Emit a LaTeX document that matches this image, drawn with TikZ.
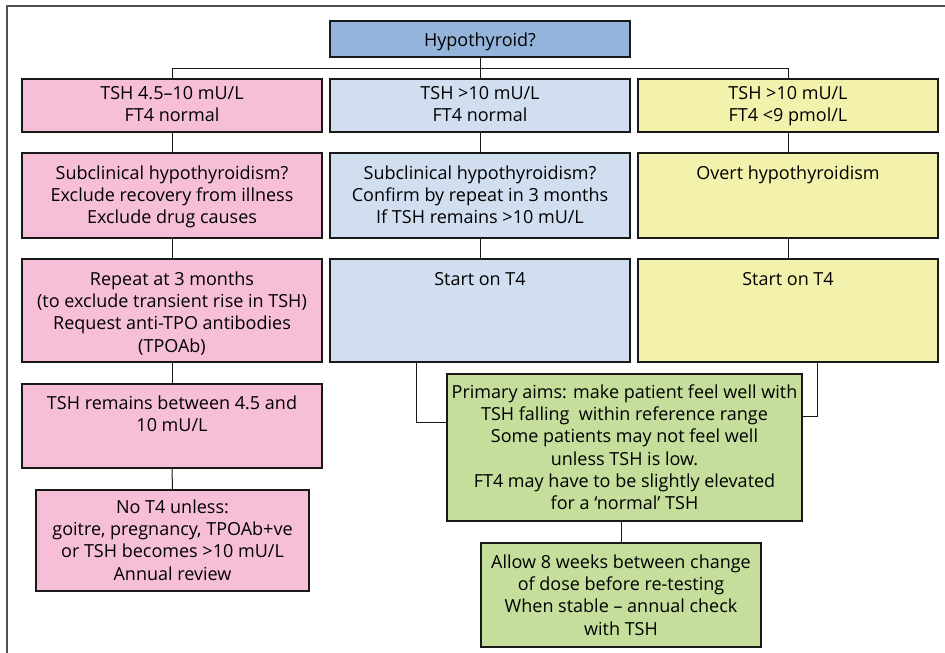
\documentclass[tikz,border=0pt]{standalone}
\usepackage{fontspec}
\setmainfont{Open Sans}
\definecolor{cpink}{HTML}{F6BFD7}
\definecolor{cblue}{HTML}{D1DEF0}
\definecolor{cyel}{HTML}{F2F2AD}
\definecolor{cgreen}{HTML}{C5DE9B}
\definecolor{ctop}{HTML}{95B4DC}
\definecolor{cframe}{HTML}{505050}
\tikzset{
  box/.style={draw=black!90, line width=1.2pt, rectangle, inner sep=0pt},
  txt/.style={anchor=north, align=center, inner sep=0pt, font=\fontsize{18}{22.3}\selectfont},
  conn/.style={draw=black!90, line width=1pt},
}
\begin{document}
\begin{tikzpicture}[x=1pt,y=-1pt]
\useasboundingbox (0,0) rectangle (945,653);
\draw[cframe, line width=1.2pt] (7,653) -- (7,6) -- (945,6);
% top
\node[box, fill=ctop, minimum width=300pt, minimum height=36pt] (top) at (480,39) {};
\node[txt] (ttop) at ([yshift=-10pt]top.north) {\strut Hypothyroid?};
% row 1
\node[box, fill=cpink, minimum width=300pt, minimum height=53pt] (p1) at (172,105.5) {};
\node[box, fill=cblue, minimum width=300pt, minimum height=53pt] (b1) at (480,105.5) {};
\node[box, fill=cyel, minimum width=300pt, minimum height=53pt] (y1) at (788,105.5) {};
\node[txt] (tp1) at ([yshift=-5pt]p1.north) {\strut TSH 4.5–10 mU/L\\FT4 normal};
\node[txt] (tb1) at ([yshift=-5pt]b1.north) {\strut TSH >10 mU/L\\FT4 normal};
\node[txt] (ty1) at ([yshift=-5pt]y1.north) {\strut TSH >10 mU/L\\FT4 <9 pmol/L};
% row 2
\node[box, fill=cpink, minimum width=300pt, minimum height=85pt] (p2) at (172,195.5) {};
\node[box, fill=cblue, minimum width=300pt, minimum height=85pt] (b2) at (480,195.5) {};
\node[box, fill=cyel, minimum width=300pt, minimum height=85pt] (y2) at (788,195.5) {};
\node[txt] (tp2) at ([yshift=-11pt]p2.north) {\strut Subclinical hypothyroidism?\\Exclude recovery from illness\\Exclude drug causes};
\node[txt] (tb2) at ([yshift=-11pt]b2.north) {\strut Subclinical hypothyroidism?\\Confirm by repeat in 3 months\\If TSH remains >10 mU/L};
\node[txt] (ty2) at ([yshift=-11pt]y2.north) {\strut Overt hypothyroidism};
% row 3
\node[box, fill=cpink, minimum width=300pt, minimum height=103pt] (p3) at (172,310.5) {};
\node[box, fill=cblue, minimum width=300pt, minimum height=103pt] (b3) at (480,310.5) {};
\node[box, fill=cyel, minimum width=300pt, minimum height=103pt] (y3) at (788,310.5) {};
\node[txt] (tp3) at ([yshift=-11pt]p3.north) {\strut Repeat at 3 months\\(to exclude transient rise in TSH)\\Request anti-TPO antibodies\\(TPOAb)};
\node[txt] (tb3) at ([yshift=-11pt]b3.north) {\strut Start on T4};
\node[txt] (ty3) at ([yshift=-11pt]y3.north) {\strut Start on T4};
% pink row 4, 5
\node[box, fill=cpink, minimum width=300pt, minimum height=84pt] (p4) at (172,426) {};
\node[txt] (tp4) at ([yshift=-10pt]p4.north) {\strut TSH remains between 4.5 and\\10 mU/L};
\node[box, fill=cpink, minimum width=273pt, minimum height=101pt] (p5) at (172.5,540.5) {};
\node[txt] (tp5) at ([yshift=-8pt]p5.north) {\strut No T4 unless:\\goitre, pregnancy, TPOAb+ve\\or TSH becomes >10 mU/L\\Annual review};
% green
\node[box, fill=cgreen, minimum width=355pt, minimum height=147pt] (g1) at (624.5,447.5) {};
\node[txt] (tg1) at ([yshift=-9pt]g1.north) {\strut Primary aims: make patient feel well with\\TSH falling\ \ within reference range\\Some patients may not feel well\\unless TSH is low.\\FT4 may have to be slightly elevated\\for a ‘normal’ TSH};
\node[box, fill=cgreen, minimum width=280pt, minimum height=104pt] (g2) at (621,595) {};
\node[txt] (tg2) at ([yshift=-10pt]g2.north) {\strut Allow 8 weeks between change\\of dose before re-testing\\When stable – annual check\\with TSH};
% connectors
\coordinate (bus) at (480,68);
\coordinate (cl) at (416,422);
\coordinate (cr) at (817,416);
\draw[conn] (top.south) -- (b1.north);
\draw[conn] (p1.north) -- (p1.north |- bus) -- (y1.north |- bus) -- (y1.north);
\draw[conn] (p1.south) -- (p2.north);
\draw[conn] (b1.south) -- (b2.north);
\draw[conn] (y1.south) -- (y2.north);
\draw[conn] (p2.south) -- (p3.north);
\draw[conn] (b2.south) -- (b3.north);
\draw[conn] (y2.south) -- (y3.north);
\draw[conn] (p3.south) -- (p4.north);
\draw[conn] (p4.south) -- (p5.north);
\draw[conn] (b3.south -| cl) -- (cl) -- (g1.west |- cl);
\draw[conn] (y3.south -| cr) -- (cr) -- (g1.east |- cr);
\draw[conn] (g1.south -| g2.north) -- (g2.north);
\end{tikzpicture}
\end{document}
